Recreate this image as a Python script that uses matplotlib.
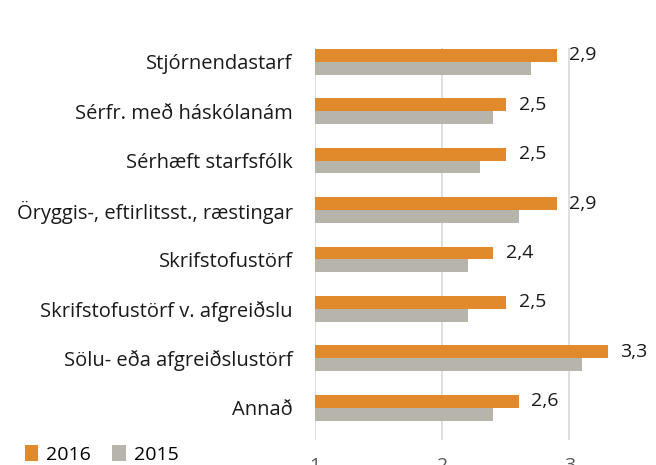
import numpy as np
import matplotlib.pyplot as plt

plt.rcParams['font.family'] = ['Open Sans', 'DejaVu Sans']

categories = ['Stjórnendastarf', 'Sérfr. með háskólanám', 'Sérhæft starfsfólk',
              'Öryggis-, eftirlitsst., ræstingar', 'Skrifstofustörf',
              'Skrifstofustörf v. afgreiðslu', 'Sölu- eða afgreiðslustörf', 'Annað']
vals_2016 = [2.9, 2.5, 2.5, 2.9, 2.4, 2.5, 3.3, 2.6]
vals_2015 = [2.7, 2.4, 2.3, 2.6, 2.2, 2.2, 3.1, 2.4]
xticks = [1, 2, 3]

orange = '#E08A2C'
gray = '#B7B4AC'

fig = plt.figure(figsize=(6.56, 4.65), dpi=100)
ax = fig.add_axes([0.48, 0.054, 0.52, 0.843])

y = np.arange(len(categories))
h = 0.26
ax.barh(y - h / 2, np.array(vals_2016) - 1, left=1, height=h, color=orange, label='2016', zorder=3)
ax.barh(y + h / 2, np.array(vals_2015) - 1, left=1, height=h, color=gray, label='2015', zorder=3)

for yi, v in zip(y, vals_2016):
    ax.text(v + 0.1, yi - h / 2, f'{v:.1f}'.replace('.', ','), va='center', ha='left',
            fontsize=14, color='#1a1a1a')

ax.set_yticks(y)
ax.set_yticklabels(categories, fontsize=14.5, color='#1a1a1a')
ax.set_xticks(xticks)
ax.set_xticklabels([str(t) for t in xticks], fontsize=14, color='#595959')
ax.set_xlim(1, 3.68)
ax.set_ylim(7.65, -0.28)
ax.tick_params(axis='y', length=0, pad=16)
ax.tick_params(axis='x', length=0, pad=12)
ax.grid(axis='x', color='#D9D9D9', linewidth=1.2, zorder=0)
for s in ax.spines.values():
    s.set_visible(False)

fig.legend(loc='lower left', bbox_to_anchor=(0.011, -0.035), ncol=2, frameon=False,
           fontsize=14, handlelength=0.7, handleheight=0.9, handletextpad=0.4,
           columnspacing=1.1)

fig.savefig('out.png', dpi=100)
